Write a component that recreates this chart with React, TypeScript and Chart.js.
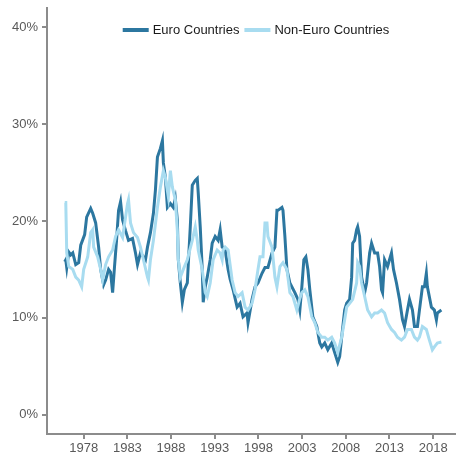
import React, { useEffect, useRef } from "react";
import { Chart, registerables } from "chart.js";

Chart.register(...registerables);

const seriesNames = ["Euro Countries", "Non-Euro Countries"];
const xTickYears = [1978, 1983, 1988, 1993, 1998, 2003, 2008, 2013, 2018];
const yTickValues = [0, 10, 20, 30, 40];

const euroYears = [
  1975.83, 1975.95, 1976.06, 1976.29, 1976.52, 1976.75, 1977.09, 1977.43, 1977.66, 1978.11,
  1978.34, 1978.8, 1979.03, 1979.37, 1979.71, 1979.94, 1980.28, 1980.51, 1980.85, 1981.08,
  1981.31, 1981.53, 1981.76, 1981.99, 1982.22, 1982.45, 1982.79, 1983.13, 1983.59, 1983.93,
  1984.16, 1984.5, 1984.84, 1985.07, 1985.3, 1985.64, 1985.98, 1986.21, 1986.44, 1986.78,
  1987.01, 1987.12, 1987.35, 1987.58, 1987.92, 1988.26, 1988.49, 1988.72, 1988.83, 1989.06,
  1989.29, 1989.52, 1989.86, 1989.97, 1990.2, 1990.43, 1990.77, 1991.0, 1991.11, 1991.34,
  1991.57, 1991.68, 1991.91, 1992.14, 1992.48, 1992.71, 1993.05, 1993.39, 1993.62, 1993.85,
  1994.19, 1994.53, 1994.76, 1995.1, 1995.56, 1995.9, 1996.24, 1996.7, 1996.81, 1997.27,
  1997.61, 1997.95, 1998.41, 1998.75, 1999.09, 1999.55, 1999.89, 2000.12, 2000.23, 2000.69,
  2000.81, 2001.03, 2001.26, 2001.6, 2002.17, 2002.52, 2002.74, 2002.97, 2003.2, 2003.43,
  2003.66, 2003.88, 2004.23, 2004.68, 2005.02, 2005.25, 2005.59, 2005.94, 2006.39, 2006.73,
  2007.08, 2007.3, 2007.53, 2007.87, 2008.1, 2008.44, 2008.67, 2008.79, 2009.01, 2009.24,
  2009.36, 2009.58, 2009.81, 2010.16, 2010.38, 2010.73, 2010.95, 2011.3, 2011.64, 2011.87,
  2012.09, 2012.21, 2012.44, 2012.78, 2013.23, 2013.46, 2013.8, 2014.15, 2014.49, 2014.72,
  2015.06, 2015.29, 2015.63, 2015.86, 2016.2, 2016.43, 2016.77, 2017.0, 2017.22, 2017.34,
  2017.8, 2018.14, 2018.37, 2018.48, 2018.94,
];
const euroValues = [
  15.8, 16.0, 15.2, 16.8, 16.5, 16.7, 15.5, 15.7, 17.5, 18.6,
  20.4, 21.3, 20.8, 19.8, 17.3, 15.0, 13.4, 13.9, 15.0, 14.7,
  12.6, 15.3, 18.0, 21.1, 22.0, 20.1, 19.0, 18.0, 18.2, 16.7,
  15.5, 16.7, 16.3, 16.0, 17.3, 18.8, 20.8, 23.2, 26.6, 27.5,
  28.3, 26.0, 24.5, 21.4, 21.8, 21.4, 22.3, 20.1, 16.0, 13.6,
  11.6, 12.9, 13.6, 15.5, 19.4, 23.7, 24.2, 24.4, 22.9, 19.4,
  15.0, 11.6, 13.2, 14.2, 16.0, 17.7, 18.4, 18.0, 19.1, 17.3,
  17.0, 15.0, 14.0, 12.9, 11.1, 11.5, 10.1, 10.5, 9.5, 11.9,
  13.2, 13.6, 14.6, 15.2, 15.2, 16.7, 17.3, 21.1, 21.1, 21.4,
  21.1, 18.4, 15.0, 13.6, 12.6, 11.9, 10.8, 13.2, 16.0, 16.3,
  15.0, 12.9, 10.1, 9.1, 7.4, 7.0, 7.4, 6.7, 7.4, 6.4,
  5.4, 6.0, 8.0, 10.8, 11.5, 11.9, 14.2, 17.7, 18.0, 19.1,
  19.4, 18.4, 14.2, 12.6, 13.6, 16.7, 17.7, 16.7, 16.7, 15.3,
  12.9, 12.6, 16.0, 15.3, 16.7, 15.0, 13.6, 11.9, 9.8, 9.1,
  10.8, 11.9, 10.8, 9.1, 9.1, 10.8, 13.2, 13.2, 14.6, 13.2,
  11.1, 10.8, 9.8, 10.5, 10.8,
];

const nonEuroYears = [
  1975.83, 1975.95, 1976.06, 1976.29, 1976.75, 1977.09, 1977.43, 1977.77, 1978.0, 1978.46,
  1978.8, 1979.03, 1979.14, 1979.6, 1979.94, 1980.17, 1980.51, 1980.85, 1981.31, 1981.65,
  1981.99, 1982.45, 1983.02, 1983.13, 1983.36, 1983.7, 1984.16, 1984.5, 1984.84, 1985.3,
  1985.41, 1985.64, 1985.98, 1986.44, 1986.78, 1987.12, 1987.35, 1987.69, 1987.92, 1988.15,
  1988.49, 1988.72, 1988.83, 1989.06, 1989.4, 1989.86, 1990.43, 1990.77, 1991.0, 1991.11,
  1991.57, 1991.91, 1992.14, 1992.48, 1992.82, 1993.28, 1993.62, 1993.85, 1993.96, 1994.19,
  1994.53, 1994.99, 1995.33, 1995.67, 1996.13, 1996.47, 1996.81, 1997.27, 1997.61, 1997.95,
  1998.18, 1998.52, 1998.75, 1998.98, 1999.09, 1999.55, 1999.89, 2000.12, 2000.46, 2000.81,
  2001.26, 2001.6, 2001.95, 2002.4, 2002.74, 2002.97, 2003.31, 2003.66, 2004.11, 2004.45,
  2004.8, 2005.25, 2005.59, 2005.94, 2006.39, 2006.73, 2007.08, 2007.53, 2007.87, 2008.1,
  2008.44, 2008.79, 2009.24, 2009.36, 2009.58, 2009.81, 2010.16, 2010.5, 2010.95, 2011.3,
  2011.64, 2012.09, 2012.44, 2012.78, 2013.23, 2013.58, 2013.92, 2014.37, 2014.72, 2015.06,
  2015.51, 2015.86, 2016.2, 2016.43, 2016.77, 2017.22, 2017.57, 2017.91, 2018.14, 2018.48,
  2018.94,
];
const nonEuroValues = [
  21.9, 21.9, 16.7, 15.3, 15.0, 14.2, 13.9, 13.2, 15.0, 16.3,
  18.8, 19.1, 17.3, 16.3, 15.0, 13.9, 15.5, 16.3, 17.0, 18.4,
  19.1, 18.3, 21.8, 22.2, 19.8, 18.8, 18.3, 17.3, 16.0, 14.2,
  13.9, 16.0, 18.0, 21.4, 23.5, 25.2, 24.5, 22.5, 25.2, 23.5,
  22.2, 19.0, 16.0, 14.2, 15.0, 16.0, 18.0, 19.4, 18.0, 17.0,
  15.0, 12.6, 12.2, 13.6, 16.0, 17.0, 16.7, 16.0, 17.0, 17.3,
  17.0, 13.9, 12.6, 12.2, 12.6, 11.1, 10.8, 11.5, 12.9, 15.0,
  16.3, 16.3, 19.8, 19.8, 18.4, 17.3, 14.2, 13.2, 15.3, 15.7,
  15.0, 12.6, 12.2, 10.8, 12.0, 12.6, 12.9, 12.2, 10.1, 9.5,
  8.5, 8.0, 8.0, 7.7, 8.0, 7.4, 6.4, 8.0, 9.8, 11.1,
  11.5, 11.9, 13.6, 15.7, 15.3, 13.6, 12.2, 10.8, 10.1, 10.5,
  10.5, 10.8, 10.5, 9.5, 8.8, 8.5, 8.0, 7.7, 8.0, 8.8,
  8.8, 8.0, 7.7, 8.0, 9.1, 8.8, 7.7, 6.7, 7.0, 7.4,
  7.5,
];

const DARK = "#2C77A0";
const LIGHT = "#A8DCF0";
const AXIS = "#8C8C8C";
const TEXT = "#595959";
const FONT = "'Liberation Sans', Arial, sans-serif";

const legendPlugin = {
  id: "insideLegend",
  afterDraw(chart: any) {
    const ctx = chart.ctx;
    const area = chart.chartArea;
    const items = chart.data.datasets.map((d: any) => ({ label: d.label, color: d.borderColor }));
    ctx.save();
    ctx.font = `13px ${FONT}`;
    const lineW = 26;
    const gapLine = 4;
    const gapItem = 5;
    let total = 0;
    items.forEach((it: any, i: number) => {
      total += lineW + gapLine + ctx.measureText(it.label).width + (i < items.length - 1 ? gapItem : 0);
    });
    let x = (area.left + area.right) / 2 + 5 - total / 2;
    const y = area.top + 22;
    items.forEach((it: any) => {
      ctx.strokeStyle = it.color;
      ctx.lineWidth = 4;
      ctx.beginPath();
      ctx.moveTo(x, y);
      ctx.lineTo(x + lineW, y);
      ctx.stroke();
      x += lineW + gapLine;
      ctx.fillStyle = "#1a1a1a";
      ctx.textBaseline = "middle";
      ctx.textAlign = "left";
      ctx.fillText(it.label, x, y + 0.5);
      x += ctx.measureText(it.label).width + gapItem;
    });
    ctx.restore();
  },
};

export default function App() {
  const ref = useRef<HTMLCanvasElement>(null);
  useEffect(() => {
    document.body.style.margin = "0";
    const canvas = ref.current!;
    const chart = new Chart(canvas, {
      type: "line",
      data: {
        datasets: [
          {
            label: seriesNames[0],
            data: euroYears.map((x, i) => ({ x, y: euroValues[i] })),
            borderColor: DARK,
            backgroundColor: DARK,
            borderWidth: 3,
            pointRadius: 0,
            tension: 0,
            order: 1,
          },
          {
            label: seriesNames[1],
            data: nonEuroYears.map((x, i) => ({ x, y: nonEuroValues[i] })),
            borderColor: LIGHT,
            backgroundColor: LIGHT,
            borderWidth: 3,
            pointRadius: 0,
            tension: 0,
            order: 0,
          },
        ],
      },
      options: {
        animation: false,
        responsive: false,
        maintainAspectRatio: false,
        layout: { padding: { top: 8, right: 1, left: 0, bottom: 0 } },
        plugins: { legend: { display: false }, tooltip: { enabled: false } },
        scales: {
          x: {
            type: "linear",
            min: 1973.8,
            max: 2020.5,
            afterBuildTicks: (scale: any) => {
              scale.ticks = xTickYears.map((v) => ({ value: v }));
            },
            afterFit: (scale: any) => {
              scale.height = 23;
              scale.paddingLeft = 0;
              scale.paddingRight = 0;
            },
            ticks: {
              callback: (v: any) => String(v),
              color: TEXT,
              font: { family: FONT, size: 13 },
              padding: 2,
              maxRotation: 0,
              autoSkip: false,
            },
            grid: { drawOnChartArea: false, drawTicks: true, tickLength: 5, color: AXIS, lineWidth: 2 },
            border: { display: true, color: AXIS, width: 2 },
          },
          y: {
            type: "linear",
            min: -2,
            max: 42,
            afterBuildTicks: (scale: any) => {
              scale.ticks = yTickValues.map((v) => ({ value: v }));
            },
            afterFit: (scale: any) => {
              scale.width = 47;
              scale.paddingTop = 0;
              scale.paddingBottom = 0;
            },
            ticks: {
              callback: (v: any) => `${v}%`,
              color: TEXT,
              font: { family: FONT, size: 13 },
              padding: 4,
            },
            grid: { drawOnChartArea: false, drawTicks: true, tickLength: 5, color: AXIS, lineWidth: 2 },
            border: { display: true, color: AXIS, width: 2 },
          },
        },
      },
      plugins: [legendPlugin],
    });
    return () => chart.destroy();
  }, []);
  return (
    <div style={{ width: 456, height: 457, background: "#fff" }}>
      <canvas ref={ref} width={456} height={457} style={{ display: "block" }} />
    </div>
  );
}
